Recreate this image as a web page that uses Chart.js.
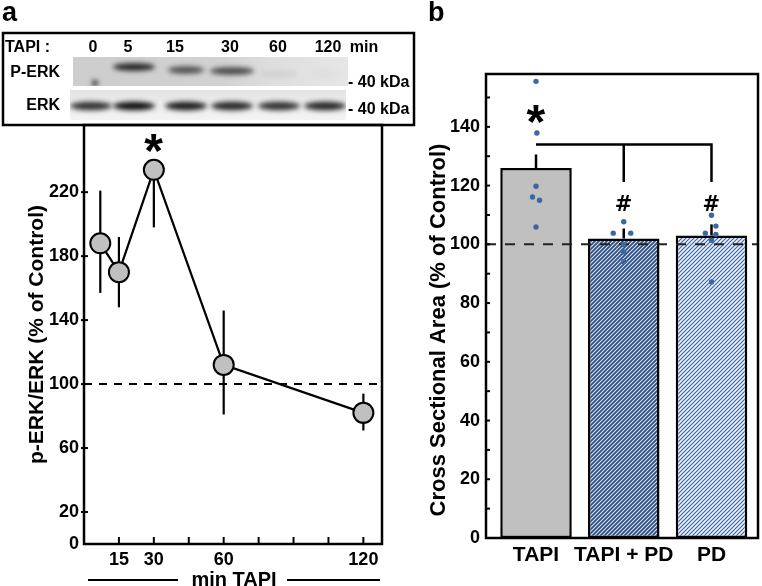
<!DOCTYPE html>
<html>
<head>
<meta charset="utf-8">
<script src="https://cdn.jsdelivr.net/npm/chart.js@4.4.1/dist/chart.umd.min.js"></script>
<style>
  html, body { margin: 0; padding: 0; background: #fff; }
  #wrap { position: relative; width: 762px; height: 586px; overflow: hidden; }
  #chartA { position: absolute; left: 0; top: 0; }
  #chartB { position: absolute; left: 420px; top: 0; }
</style>
</head>
<body>
<div id="wrap">
  <canvas id="chartA" width="420" height="586"></canvas>
  <canvas id="chartB" width="342" height="586"></canvas>
</div>
<script>
// panel a - p-ERK/ERK over time
const timeMinutes = [7, 15, 30, 60, 120];
const perkRatio = [188, 170, 234, 112, 82];
const perkErrUp = [33, 22, 0, 34, 12];
const perkErrDown = [31, 22, 36, 31, 11];
const perkYTicks = [0, 20, 60, 100, 140, 180, 220];
const timeTicks = [15, 30, 45, 60, 75, 90, 105, 120];
const timeLabels = [15, 30, 60, 120];

// western blot lanes (band darkness 0..1)
const blotLanes = ['0', '5', '15', '30', '60', '120'];
const pErkBand = [0, 0.95, 0.7, 0.75, 0.06, 0.02];
const erkBand = [0.85, 1, 0.95, 0.9, 0.85, 0.9];

// panel b - cross sectional area
const groups = ['TAPI', 'TAPI + PD', 'PD'];
const areaMean = [126, 102, 103];
const areaErr = [4.6, 3.4, 3.8];
const areaYTicks = [0, 10, 20, 30, 40, 50, 60, 70, 80, 90, 100, 110, 120, 130, 140, 150];
const tapiDots = [155.5, 137.9, 119.8, 116.1, 115.0, 105.9];
const tapiPdDots = [107.7, 103.8, 103.8, 100.0, 97.4, 94.1];
const pdDots = [109.9, 106.2, 103.8, 103.4, 101.4, 87.2];
const tapiJitter = [0, 0.01, 0, -0.04, 0.04, 0];
const tapiPdJitter = [0, -0.12, 0.08, 0, 0, 0];
const pdJitter = [0, 0.05, -0.07, 0.05, 0, 0];

const FONT = "'Liberation Sans', Arial, sans-serif";
Chart.defaults.font.family = FONT;
Chart.defaults.font.weight = 'bold';
Chart.defaults.color = '#000';

// centre a glyph on its real ink box
function drawCentered(ctx, text, x, y, size, family) {
    ctx.font = 'bold ' + size + 'px ' + (family || FONT);
    ctx.textAlign = 'left';
    ctx.textBaseline = 'alphabetic';
    const m = ctx.measureText(text);
    const w = m.actualBoundingBoxLeft + m.actualBoundingBoxRight;
    ctx.fillText(text, x - w / 2 + m.actualBoundingBoxLeft,
        y + (m.actualBoundingBoxAscent - m.actualBoundingBoxDescent) / 2);
}

function drawBlot(ctx) {
    const laneX = [91, 134, 186, 232, 279, 325];
    const pErkY = [70, 67, 70, 71, 74, 74];
    const pErkW = [18, 21, 18, 22, 18, 16];
    const labelX = [93, 128, 175, 230, 278, 328];

    ctx.save();
    // P-ERK strip
    ctx.save();
    ctx.beginPath(); ctx.rect(73, 57, 275, 29); ctx.clip();
    let g = ctx.createLinearGradient(73, 0, 348, 0);
    g.addColorStop(0, '#cdcdcd'); g.addColorStop(0.55, '#d2d2d2');
    g.addColorStop(0.72, '#dedede'); g.addColorStop(1, '#e6e6e6');
    ctx.fillStyle = g; ctx.fillRect(73, 57, 275, 29);
    ctx.filter = 'blur(2.5px)';
    laneX.forEach((x, i) => {
        if (pErkBand[i] <= 0) return;
        ctx.fillStyle = 'rgba(25,25,25,' + pErkBand[i] + ')';
        ctx.beginPath(); ctx.ellipse(x, pErkY[i], pErkW[i], 3.8, 0, 0, Math.PI * 2); ctx.fill();
    });
    ctx.fillStyle = 'rgba(30,30,30,0.9)';
    ctx.beginPath(); ctx.arc(95, 83, 3, 0, Math.PI * 2); ctx.fill();
    ctx.filter = 'none';
    ctx.restore();

    // ERK strip
    ctx.save();
    ctx.beginPath(); ctx.rect(70, 90, 276, 30); ctx.clip();
    g = ctx.createLinearGradient(0, 90, 0, 120);
    g.addColorStop(0, '#e4e4e4'); g.addColorStop(1, '#f3f3f3');
    ctx.fillStyle = g; ctx.fillRect(70, 90, 276, 30);
    ctx.filter = 'blur(2.5px)';
    laneX.forEach((x, i) => {
        ctx.fillStyle = 'rgba(15,15,15,' + erkBand[i] + ')';
        ctx.beginPath(); ctx.ellipse(x, 106, 21, 4.2, 0, 0, Math.PI * 2); ctx.fill();
    });
    ctx.filter = 'none';
    ctx.restore();

    // labels
    ctx.fillStyle = '#000';
    ctx.font = 'bold 16px ' + FONT;
    ctx.textBaseline = 'middle';
    ctx.textAlign = 'left';
    ctx.fillText('TAPI :', 5, 48);
    ctx.textAlign = 'center';
    blotLanes.forEach((l, i) => ctx.fillText(l, labelX[i], 48));
    ctx.fillText('min', 364, 48);
    ctx.textAlign = 'right';
    ctx.fillText('P-ERK', 60, 73);
    ctx.fillText('ERK', 60, 106);
    ctx.textAlign = 'left';
    ctx.fillText('- 40 kDa', 348, 83);
    ctx.fillText('- 40 kDa', 348, 110);

    ctx.strokeStyle = '#000'; ctx.lineWidth = 2.5;
    ctx.strokeRect(3, 33, 411, 92);
    ctx.restore();
}

const panelA = {
    id: 'panelA',
    beforeDatasetsDraw(chart) {
        const {ctx, chartArea: a, scales: {x, y}} = chart;
        ctx.save();
        ctx.strokeStyle = '#000';
        ctx.lineWidth = 2;
        ctx.setLineDash([8, 7]);
        const y100 = y.getPixelForValue(100);
        ctx.beginPath(); ctx.moveTo(a.left, y100); ctx.lineTo(a.right, y100); ctx.stroke();
        ctx.setLineDash([]);
        ctx.lineWidth = 2.2;
        timeMinutes.forEach((m, i) => {
            const px = x.getPixelForValue(m);
            ctx.beginPath();
            ctx.moveTo(px, y.getPixelForValue(perkRatio[i] + perkErrUp[i]));
            ctx.lineTo(px, y.getPixelForValue(perkRatio[i] - perkErrDown[i]));
            ctx.stroke();
        });
        ctx.restore();
    },
    afterDraw(chart) {
        const {ctx, chartArea: a, scales: {x, y}} = chart;
        ctx.save();
        ctx.strokeStyle = '#000';
        ctx.fillStyle = '#000';
        ctx.lineWidth = 2.5;
        ctx.strokeRect(a.left, a.top, a.right - a.left, a.bottom - a.top);
        ctx.lineWidth = 2;
        perkYTicks.forEach(v => {
            if (v === 0) return;
            const py = y.getPixelForValue(v);
            ctx.beginPath(); ctx.moveTo(a.left - 3, py); ctx.lineTo(a.left + 4, py); ctx.stroke();
        });
        timeTicks.forEach(v => {
            const px = x.getPixelForValue(v);
            ctx.beginPath(); ctx.moveTo(px, a.bottom); ctx.lineTo(px, a.bottom - 7); ctx.stroke();
        });
        // significance mark over the peak
        drawCentered(ctx, '*', x.getPixelForValue(timeMinutes[2]), y.getPixelForValue(250.5), 48);

        // min TAPI bar under the axis
        ctx.font = 'bold 20px ' + FONT;
        ctx.textAlign = 'center';
        ctx.textBaseline = 'middle';
        ctx.fillText('min TAPI', 234, 580);
        ctx.lineWidth = 2;
        ctx.beginPath();
        ctx.moveTo(88, 580); ctx.lineTo(178, 580);
        ctx.moveTo(287, 580); ctx.lineTo(380, 580);
        ctx.stroke();

        ctx.font = 'bold 27px ' + FONT;
        ctx.textAlign = 'left';
        ctx.textBaseline = 'alphabetic';
        ctx.fillText('a', 2, 21);
        ctx.restore();
        drawBlot(ctx);
    }
};

new Chart(document.getElementById('chartA'), {
    type: 'line',
    data: {
        datasets: [{
            data: timeMinutes.map((m, i) => ({x: m, y: perkRatio[i]})),
            borderColor: '#000',
            borderWidth: 2.2,
            pointRadius: 10,
            pointBackgroundColor: '#c0c0c0',
            pointBorderColor: '#000',
            pointBorderWidth: 2,
            tension: 0,
            clip: false
        }]
    },
    options: {
        responsive: false,
        animation: false,
        devicePixelRatio: 1,
        layout: { padding: { left: 0, right: 38, top: 125, bottom: 0 } },
        plugins: { legend: { display: false }, tooltip: { enabled: false } },
        scales: {
            x: {
                type: 'linear', min: 0, max: 128,
                afterBuildTicks: s => { s.ticks = timeTicks.map(v => ({value: v})); },
                afterFit: s => { s.height = 42; },
                grid: { display: false, drawTicks: false },
                border: { display: false },
                ticks: {
                    padding: 5, autoSkip: false, maxRotation: 0,
                    font: { size: 18, weight: 'bold' },
                    callback: v => timeLabels.includes(v) ? String(v) : ''
                }
            },
            y: {
                min: 0, max: 262,
                afterBuildTicks: s => { s.ticks = perkYTicks.map(v => ({value: v})); },
                afterFit: s => { s.width = 84; },
                grid: { display: false, drawTicks: false },
                border: { display: false },
                title: {
                    display: true, text: 'p-ERK/ERK (% of Control)',
                    font: { size: 21, weight: 'bold' }, padding: { top: 25, bottom: 0 }
                },
                ticks: { padding: 5, autoSkip: false, font: { size: 18, weight: 'bold' } }
            }
        }
    },
    plugins: [panelA]
});

// diagonal hatch for the PD bars
function makeHatch(lineColor, bgColor, lw) {
    const c = document.createElement('canvas');
    c.width = 4; c.height = 4;
    const g = c.getContext('2d');
    g.fillStyle = bgColor; g.fillRect(0, 0, 4, 4);
    g.strokeStyle = lineColor; g.lineWidth = lw;
    g.beginPath();
    g.moveTo(0, 4); g.lineTo(4, 0);
    g.moveTo(-1, 1); g.lineTo(1, -1);
    g.moveTo(3, 5); g.lineTo(5, 3);
    g.stroke();
    return g.createPattern(c, 'repeat');
}

const panelB = {
    id: 'panelB',
    afterDatasetDraw(chart, args) {
        if (args.index !== 1) return;
        const {ctx, chartArea: a, scales: {x, y}} = chart;
        ctx.save();
        ctx.strokeStyle = '#222';
        ctx.lineWidth = 2;
        ctx.setLineDash([10, 9]);
        const y100 = y.getPixelForValue(100);
        ctx.beginPath(); ctx.moveTo(a.left, y100); ctx.lineTo(a.right, y100); ctx.stroke();
        ctx.setLineDash([]);
        ctx.strokeStyle = '#000';
        ctx.lineWidth = 2.5;
        groups.forEach((gname, i) => {
            const px = x.getPixelForValue(i);
            ctx.beginPath();
            ctx.moveTo(px, y.getPixelForValue(areaMean[i]));
            ctx.lineTo(px, y.getPixelForValue(areaMean[i] + areaErr[i]));
            ctx.stroke();
        });
        ctx.restore();
    },
    afterDraw(chart) {
        const {ctx, chartArea: a, scales: {x, y}} = chart;
        ctx.save();
        ctx.strokeStyle = '#000';
        ctx.fillStyle = '#000';
        ctx.lineWidth = 2.5;
        ctx.strokeRect(a.left, a.top, a.right - a.left, a.bottom - a.top);
        ctx.lineWidth = 2;
        areaYTicks.forEach(v => {
            if (v === 0) return;
            const py = y.getPixelForValue(v);
            ctx.beginPath(); ctx.moveTo(a.left, py); ctx.lineTo(a.left + 4, py); ctx.stroke();
        });

        // comparison bracket
        const x0 = x.getPixelForValue(0), x1 = x.getPixelForValue(1), x2 = x.getPixelForValue(2);
        const yb = y.getPixelForValue(134), yd = y.getPixelForValue(121.2);
        ctx.lineWidth = 2.5;
        ctx.beginPath();
        ctx.moveTo(x0, yb); ctx.lineTo(x2, yb); ctx.lineTo(x2, yd);
        ctx.moveTo(x1, yb); ctx.lineTo(x1, yd);
        ctx.stroke();

        drawCentered(ctx, '*', x0, y.getPixelForValue(144.3), 48);
        drawCentered(ctx, '#', x1, y.getPixelForValue(114.2), 21, "'DejaVu Sans', sans-serif");
        drawCentered(ctx, '#', x2, y.getPixelForValue(114.2), 21, "'DejaVu Sans', sans-serif");

        ctx.save();
        ctx.translate(19, 330);
        ctx.rotate(-Math.PI / 2);
        ctx.font = 'bold 22px ' + FONT;
        ctx.textAlign = 'center';
        ctx.textBaseline = 'middle';
        ctx.fillText('Cross Sectional Area (% of Control)', 0, 0);
        ctx.restore();

        ctx.font = 'bold 27px ' + FONT;
        ctx.textAlign = 'left';
        ctx.textBaseline = 'alphabetic';
        ctx.fillText('b', 8, 21);
        ctx.restore();
    }
};

const dotData = []
    .concat(tapiDots.map((v, i) => ({x: 0 + tapiJitter[i], y: v})))
    .concat(tapiPdDots.map((v, i) => ({x: 1 + tapiPdJitter[i], y: v})))
    .concat(pdDots.map((v, i) => ({x: 2 + pdJitter[i], y: v})));

new Chart(document.getElementById('chartB'), {
    type: 'bar',
    data: {
        datasets: [{
            type: 'scatter',
            order: 1,
            data: dotData,
            pointRadius: 2.7,
            pointBackgroundColor: '#3c679f',
            pointBorderWidth: 0
        }, {
            type: 'bar',
            order: 2,
            data: groups.map((gname, i) => ({x: i, y: areaMean[i]})),
            backgroundColor: ['#c0c0c0', makeHatch('#2c4f85', '#dfe6f0', 1.8), makeHatch('#3d66a3', '#f0f4f9', 1.2)],
            borderColor: '#000',
            borderWidth: 2.5,
            borderSkipped: false,
            barPercentage: 0.815,
            categoryPercentage: 1
        }]
    },
    options: {
        responsive: false,
        animation: false,
        devicePixelRatio: 1,
        layout: { padding: { left: 0, right: 2, top: 74, bottom: 0 } },
        plugins: { legend: { display: false }, tooltip: { enabled: false } },
        scales: {
            x: {
                type: 'linear', min: -0.57, max: 2.53, offset: false,
                afterBuildTicks: s => { s.ticks = groups.map((gname, i) => ({value: i})); },
                afterFit: s => { s.height = 48; },
                grid: { display: false, drawTicks: false, offset: false },
                border: { display: false },
                ticks: {
                    padding: 5, autoSkip: false, maxRotation: 0,
                    font: { size: 21, weight: 'bold' },
                    callback: v => groups[v] !== undefined ? groups[v] : ''
                }
            },
            y: {
                min: 0, max: 158,
                afterBuildTicks: s => { s.ticks = areaYTicks.map(v => ({value: v})); },
                afterFit: s => { s.width = 66; },
                grid: { display: false, drawTicks: false },
                border: { display: false },
                ticks: {
                    padding: 6, autoSkip: false,
                    font: { size: 18, weight: 'bold' },
                    callback: v => v % 20 === 0 ? String(v) : ''
                }
            }
        }
    },
    plugins: [panelB]
});
</script>
</body>
</html>
